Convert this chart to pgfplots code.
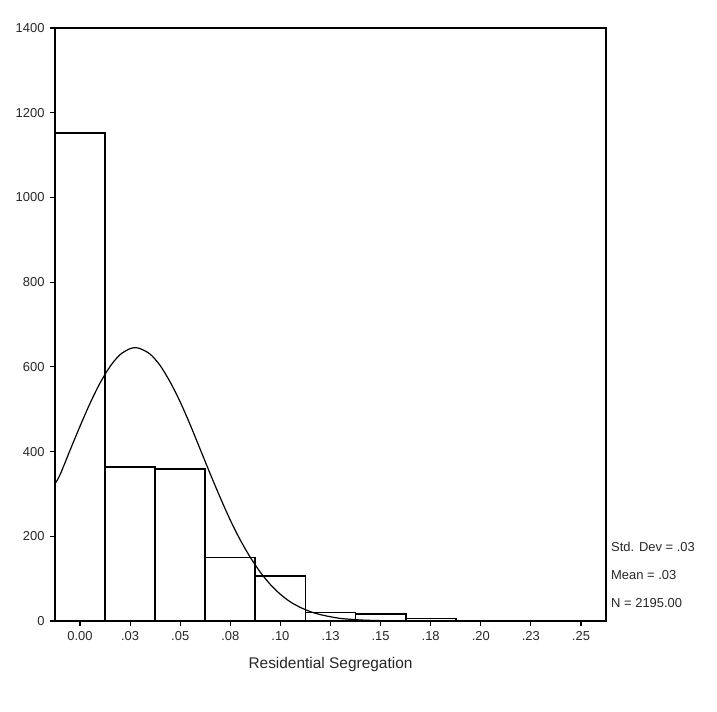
\documentclass[border=0pt]{standalone}
\usepackage{pgfplots}
\pgfplotsset{compat=1.18}
\usepackage{fontspec}
\setmainfont{Liberation Sans}
\begin{document}
\begin{tikzpicture}[x=1bp,y=1bp]
\path[use as bounding box] (0,0) rectangle (717,712);
\begin{axis}[
  at={(55bp,91bp)}, anchor=south west,
  scale only axis, width=551bp, height=593bp,
  xmin=-0.0125, xmax=0.2625, ymin=0, ymax=1400,
  axis line style={line width=1.6pt},
  tick style={line width=1.2pt, black},
  tick align=outside, major tick length=5bp,
  xtick pos=left, ytick pos=left,
  ytick={0,200,400,600,800,1000,1200,1400},
  yticklabels={0,200,400,600,800,1000,1200,1400},
  xtick={0,0.025,0.05,0.075,0.1,0.125,0.15,0.175,0.2,0.225,0.25},
  xticklabels={0.00,.03,.05,.08,.10,.13,.15,.18,.20,.23,.25},
  ticklabel style={font=\fontsize{13}{15}\selectfont, text=black!85},
  yticklabel style={xshift=-2bp},
  xticklabel style={yshift=-2bp},
  xlabel={Residential Segregation},
  xlabel style={font=\fontsize{15.5}{18}\selectfont, at={(axis description cs:0.5,0)}, anchor=center, yshift=-44bp, text=black!85},
  clip=true,
]
\addplot[ybar interval, fill=white, draw=black, line width=1.8pt] coordinates {
(-0.0125,1152) (0.0125,364) (0.0375,358) (0.0625,150) (0.0875,107) (0.1125,20) (0.1375,16) (0.1625,6) (0.1875,0)};
\addplot[smooth, black, line width=1.2pt] coordinates {
(-0.0125,324) (-0.01,345) (-0.005,403) (0,460) (0.005,514) (0.01,562) (0.015,601) (0.02,629) (0.025,643) (0.0276,645) (0.03,643) (0.035,630) (0.04,603) (0.045,564) (0.05,517) (0.055,463) (0.06,405) (0.065,347) (0.07,291) (0.075,238) (0.08,191) (0.085,150) (0.09,115) (0.095,86) (0.1,63) (0.105,45) (0.11,32) (0.115,22) (0.12,15) (0.125,10) (0.13,6) (0.135,4) (0.14,2.4) (0.145,1.5) (0.15,0.9) (0.16,0.3) (0.17,0.1) (0.18,0) (0.2625,0)};
\end{axis}
\begin{scope}[every node/.style={anchor=west, font=\fontsize{13}{15}\selectfont, text=black!85, inner sep=0pt}]
\node at (611,165) {Std. Dev = .03};
\node at (611,137) {Mean = .03};
\node at (611,109) {N = 2195.00};
\end{scope}
\end{tikzpicture}
\end{document}
